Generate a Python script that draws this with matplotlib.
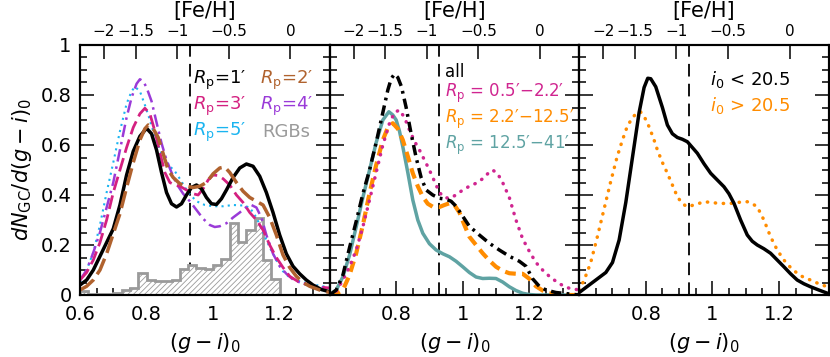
import matplotlib
matplotlib.use("Agg")
import matplotlib.pyplot as plt
import numpy as np

plt.rcParams['font.family'] = ['DejaVu Sans']
plt.rcParams['mathtext.fontset'] = 'dejavusans'
plt.rcParams['hatch.linewidth'] = 0.6

# ---- panel 1: radial bins
rp1_x = [0.60, 0.62, 0.64, 0.66, 0.68, 0.70, 0.72, 0.74, 0.76, 0.78, 0.80, 0.815, 0.83, 0.845, 0.86, 0.875, 0.89, 0.905, 0.92, 0.935, 0.95, 0.965, 0.98, 0.995, 1.01, 1.025, 1.04, 1.06, 1.08, 1.10, 1.12, 1.14, 1.16, 1.18, 1.20, 1.22, 1.24, 1.26, 1.28, 1.30, 1.325, 1.35]
rp1_y = [0.04, 0.06, 0.10, 0.155, 0.21, 0.265, 0.36, 0.48, 0.575, 0.635, 0.667, 0.645, 0.58, 0.49, 0.41, 0.365, 0.352, 0.365, 0.40, 0.43, 0.44, 0.425, 0.39, 0.365, 0.362, 0.385, 0.42, 0.47, 0.508, 0.524, 0.515, 0.475, 0.41, 0.33, 0.24, 0.165, 0.115, 0.085, 0.06, 0.04, 0.022, 0.013]
rp2_x = [0.60, 0.62, 0.64, 0.66, 0.68, 0.70, 0.72, 0.74, 0.76, 0.78, 0.795, 0.805, 0.82, 0.835, 0.85, 0.865, 0.88, 0.90, 0.92, 0.94, 0.96, 0.98, 1.00, 1.02, 1.035, 1.05, 1.07, 1.09, 1.11, 1.13, 1.15, 1.17, 1.19, 1.21, 1.23, 1.25, 1.27, 1.29, 1.32, 1.35]
rp2_y = [0.02, 0.035, 0.06, 0.10, 0.165, 0.245, 0.325, 0.43, 0.53, 0.62, 0.665, 0.68, 0.665, 0.63, 0.565, 0.50, 0.47, 0.445, 0.435, 0.43, 0.435, 0.45, 0.485, 0.508, 0.512, 0.49, 0.45, 0.415, 0.39, 0.375, 0.36, 0.31, 0.24, 0.16, 0.11, 0.075, 0.05, 0.035, 0.02, 0.01]
rp3_x = [0.60, 0.62, 0.64, 0.66, 0.68, 0.70, 0.72, 0.74, 0.76, 0.78, 0.795, 0.81, 0.825, 0.84, 0.855, 0.87, 0.885, 0.90, 0.92, 0.94, 0.955, 0.97, 0.985, 1.00, 1.015, 1.03, 1.05, 1.07, 1.09, 1.11, 1.13, 1.15, 1.17, 1.19, 1.21, 1.23, 1.26, 1.29, 1.32, 1.35]
rp3_y = [0.06, 0.09, 0.14, 0.21, 0.30, 0.41, 0.50, 0.59, 0.67, 0.725, 0.747, 0.725, 0.655, 0.57, 0.49, 0.45, 0.44, 0.435, 0.42, 0.405, 0.40, 0.425, 0.46, 0.48, 0.478, 0.465, 0.44, 0.40, 0.37, 0.33, 0.30, 0.26, 0.20, 0.15, 0.11, 0.075, 0.05, 0.04, 0.032, 0.028]
rp4_x = [0.60, 0.62, 0.64, 0.66, 0.68, 0.70, 0.72, 0.74, 0.755, 0.77, 0.78, 0.79, 0.80, 0.815, 0.83, 0.845, 0.86, 0.875, 0.89, 0.91, 0.93, 0.95, 0.97, 0.99, 1.005, 1.02, 1.04, 1.06, 1.08, 1.10, 1.115, 1.13, 1.145, 1.16, 1.18, 1.20, 1.22, 1.24, 1.27, 1.30, 1.35]
rp4_y = [0.06, 0.10, 0.17, 0.25, 0.35, 0.45, 0.58, 0.71, 0.79, 0.845, 0.863, 0.855, 0.83, 0.775, 0.69, 0.607, 0.54, 0.49, 0.445, 0.405, 0.375, 0.34, 0.305, 0.28, 0.272, 0.275, 0.287, 0.31, 0.33, 0.352, 0.36, 0.35, 0.31, 0.24, 0.165, 0.115, 0.085, 0.062, 0.045, 0.035, 0.028]
rp5_x = [0.60, 0.62, 0.64, 0.66, 0.68, 0.70, 0.72, 0.74, 0.755, 0.765, 0.78, 0.795, 0.81, 0.825, 0.84, 0.855, 0.87, 0.885, 0.90, 0.925, 0.95, 0.975, 1.00, 1.03, 1.06, 1.09, 1.11, 1.13, 1.15, 1.17, 1.19, 1.21, 1.23, 1.26, 1.29, 1.32, 1.35]
rp5_y = [0.05, 0.10, 0.17, 0.28, 0.41, 0.53, 0.655, 0.765, 0.815, 0.833, 0.815, 0.76, 0.70, 0.633, 0.58, 0.54, 0.515, 0.495, 0.465, 0.41, 0.375, 0.36, 0.355, 0.355, 0.36, 0.358, 0.35, 0.31, 0.25, 0.19, 0.14, 0.095, 0.07, 0.055, 0.045, 0.037, 0.03]

# RGB colour histogram
rgb_edges = np.arange(0.6, 1.2001, 0.025)
rgb_vals = [0.015, 0.005, 0.004, 0.005, 0.008, 0.02, 0.027, 0.087, 0.06, 0.055, 0.055, 0.06,
            0.105, 0.12, 0.11, 0.105, 0.12, 0.145, 0.287, 0.213, 0.26, 0.307, 0.14, 0.065]

# ---- panel 2: wide radial ranges
all_x = [0.60, 0.62, 0.64, 0.66, 0.68, 0.70, 0.72, 0.74, 0.76, 0.775, 0.785, 0.795, 0.805, 0.816, 0.83, 0.845, 0.86, 0.875, 0.89, 0.91, 0.93, 0.95, 0.965, 0.98, 1.00, 1.02, 1.05, 1.08, 1.11, 1.14, 1.17, 1.19, 1.21, 1.23, 1.25, 1.28, 1.35]
all_y = [0.0, 0.02, 0.08, 0.19, 0.295, 0.405, 0.50, 0.61, 0.73, 0.82, 0.865, 0.884, 0.87, 0.833, 0.75, 0.645, 0.55, 0.47, 0.42, 0.40, 0.387, 0.383, 0.375, 0.355, 0.315, 0.275, 0.24, 0.207, 0.18, 0.155, 0.135, 0.115, 0.065, 0.035, 0.02, 0.01, 0.0]
in_x = [0.60, 0.62, 0.64, 0.66, 0.68, 0.70, 0.72, 0.74, 0.76, 0.78, 0.795, 0.81, 0.825, 0.84, 0.855, 0.87, 0.885, 0.90, 0.915, 0.93, 0.945, 0.96, 0.98, 1.00, 1.02, 1.04, 1.06, 1.075, 1.09, 1.105, 1.12, 1.14, 1.16, 1.18, 1.20, 1.22, 1.24, 1.26, 1.29, 1.32, 1.35]
in_y = [0.0, 0.015, 0.06, 0.113, 0.18, 0.273, 0.38, 0.49, 0.60, 0.687, 0.73, 0.74, 0.71, 0.66, 0.615, 0.58, 0.54, 0.50, 0.455, 0.41, 0.39, 0.387, 0.40, 0.42, 0.435, 0.447, 0.465, 0.485, 0.50, 0.485, 0.45, 0.39, 0.30, 0.225, 0.175, 0.13, 0.10, 0.075, 0.045, 0.027, 0.02]
mid_x = [0.60, 0.62, 0.64, 0.66, 0.68, 0.70, 0.72, 0.74, 0.76, 0.775, 0.79, 0.805, 0.82, 0.835, 0.85, 0.865, 0.88, 0.895, 0.91, 0.93, 0.945, 0.96, 0.975, 0.99, 1.005, 1.02, 1.04, 1.06, 1.08, 1.10, 1.12, 1.14, 1.16, 1.18, 1.20, 1.22, 1.24, 1.26, 1.30, 1.35]
mid_y = [0.0, 0.005, 0.02, 0.08, 0.167, 0.28, 0.407, 0.52, 0.62, 0.67, 0.687, 0.665, 0.62, 0.555, 0.487, 0.435, 0.393, 0.365, 0.353, 0.352, 0.36, 0.367, 0.36, 0.33, 0.28, 0.233, 0.20, 0.167, 0.138, 0.113, 0.097, 0.087, 0.085, 0.085, 0.065, 0.035, 0.018, 0.007, 0.0, 0.0]
out_x = [0.60, 0.62, 0.64, 0.66, 0.68, 0.70, 0.72, 0.74, 0.76, 0.778, 0.79, 0.80, 0.81, 0.82, 0.835, 0.85, 0.865, 0.88, 0.90, 0.92, 0.94, 0.96, 0.98, 1.00, 1.02, 1.04, 1.06, 1.08, 1.10, 1.12, 1.14, 1.16, 1.18, 1.20, 1.22, 1.35]
out_y = [0.0, 0.02, 0.073, 0.16, 0.273, 0.39, 0.50, 0.61, 0.70, 0.733, 0.72, 0.70, 0.655, 0.593, 0.49, 0.38, 0.30, 0.247, 0.205, 0.18, 0.165, 0.153, 0.135, 0.113, 0.09, 0.072, 0.066, 0.067, 0.066, 0.052, 0.033, 0.018, 0.007, 0.002, 0.0, 0.0]

# ---- panel 3: magnitude cut
bright_x = [0.60, 0.62, 0.64, 0.66, 0.68, 0.70, 0.72, 0.74, 0.76, 0.78, 0.795, 0.806, 0.815, 0.83, 0.85, 0.865, 0.88, 0.895, 0.91, 0.925, 0.94, 0.955, 0.975, 0.995, 1.015, 1.035, 1.05, 1.065, 1.085, 1.105, 1.12, 1.135, 1.155, 1.175, 1.195, 1.215, 1.235, 1.255, 1.275, 1.295, 1.32, 1.35]
bright_y = [0.01, 0.03, 0.05, 0.07, 0.09, 0.13, 0.22, 0.37, 0.55, 0.73, 0.83, 0.867, 0.865, 0.833, 0.75, 0.68, 0.645, 0.63, 0.623, 0.613, 0.59, 0.567, 0.525, 0.487, 0.46, 0.433, 0.405, 0.367, 0.30, 0.24, 0.215, 0.20, 0.185, 0.167, 0.14, 0.113, 0.085, 0.06, 0.045, 0.033, 0.02, 0.005]
faint_x = [0.60, 0.615, 0.634, 0.654, 0.674, 0.694, 0.714, 0.73, 0.744, 0.76, 0.775, 0.784, 0.795, 0.81, 0.825, 0.835, 0.85, 0.865, 0.88, 0.895, 0.91, 0.925, 0.95, 0.975, 1.00, 1.015, 1.04, 1.065, 1.09, 1.105, 1.12, 1.135, 1.155, 1.175, 1.195, 1.215, 1.235, 1.255, 1.275, 1.295, 1.32, 1.345]
faint_y = [0.02, 0.06, 0.127, 0.23, 0.34, 0.45, 0.553, 0.62, 0.673, 0.71, 0.73, 0.733, 0.715, 0.673, 0.62, 0.58, 0.53, 0.487, 0.44, 0.393, 0.365, 0.353, 0.362, 0.373, 0.37, 0.367, 0.366, 0.367, 0.373, 0.373, 0.365, 0.353, 0.30, 0.233, 0.18, 0.14, 0.11, 0.087, 0.07, 0.06, 0.045, 0.033]

feh_ticks = [-2, -1.5, -1, -0.5, 0]
feh_labels = ['\u22122', '\u22121.5', '\u22121', '\u22120.5', '0']
split_color = 0.93


def feh_to_gi(f):
    f = np.asarray(f, dtype=float)
    return 1.232 + 0.40 * f + 0.06 * f ** 2


def fmt(v):
    return '%g' % v


W, H = 830, 357
fig = plt.figure(figsize=(8.3, 3.57), dpi=100)
x0, pw, y0, ph = 80, 249.6, 62, 250
axes = []
for k in range(3):
    ax = fig.add_axes([(x0 + k * pw) / W, y0 / H, pw / W, ph / H])
    axes.append(ax)

for k, ax in enumerate(axes):
    ax.set_xlim(0.6, 1.35)
    ax.set_ylim(0, 1)
    for s in ax.spines.values():
        s.set_linewidth(1.5)
    ax.set_xticks([0.6, 0.8, 1.0, 1.2])
    ax.set_xticks(np.arange(0.6, 1.351, 0.05), minor=True)
    ax.set_yticks(np.arange(0, 1.01, 0.2))
    ax.set_yticks(np.arange(0, 1.001, 0.05), minor=True)
    xl = [fmt(v) for v in [0.6, 0.8, 1.0, 1.2]]
    if k > 0:
        xl[0] = ''
    ax.set_xticklabels(xl)
    if k == 0:
        ax.set_yticklabels([fmt(round(v, 1)) for v in np.arange(0, 1.01, 0.2)])
    else:
        ax.set_yticklabels([])
    ax.tick_params(which='both', direction='in', top=False, right=True, width=1.1, labelsize=14)
    ax.tick_params(axis='x', pad=7)
    ax.tick_params(axis='y', pad=6)
    ax.tick_params(which='major', length=10)
    ax.tick_params(which='minor', length=5)
    ax.axvline(split_color, color='black', lw=1.3, dashes=(7, 4), zorder=1)
    ax.set_xlabel('$(g\u2212i)_0$', fontsize=15, labelpad=5)

    top = ax.twiny()
    top.set_xlim(ax.get_xlim())
    top.set_xticks(feh_to_gi(feh_ticks))
    top.set_xticklabels(feh_labels)
    top.tick_params(direction='in', length=10, width=1.1, labelsize=11, pad=4)
    top.set_xlabel('[Fe/H]', fontsize=15, labelpad=5)
    for s in top.spines.values():
        s.set_linewidth(1.5)

axes[0].set_ylabel('$dN_{\\rm GC}/d(g\u2212i)_0$', fontsize=15, labelpad=5)


def pos(k, px, py):
    # pixel position in the reference -> axes fraction of panel k
    return ((px - x0 - k * pw) / pw, (H - y0 - py) / ph)


# panel 1
a = axes[0]
a.stairs(rgb_vals, rgb_edges, fill=True, facecolor='white', edgecolor='#9a9a9a', hatch='//////', linewidth=0, zorder=2)
a.stairs(rgb_vals, rgb_edges, color='#9a9a9a', lw=2, zorder=3)
a.plot(rp5_x, rp5_y, color='#1ab4f0', lw=1.5, ls=(0, (1, 2)), zorder=4)
a.plot(rp4_x, rp4_y, color='#9a3ad8', lw=1.8, ls=(0, (5, 2, 1, 2)), zorder=4)
a.plot(rp3_x, rp3_y, color='#d42080', lw=2.0, ls=(0, (5, 2)), zorder=4)
a.plot(rp1_x, rp1_y, color='black', lw=2.5, zorder=5)
a.plot(rp2_x, rp2_y, color='#b0622e', lw=2.5, ls=(0, (5, 1.8)), zorder=6)

tk = dict(fontsize=13, va='center', ha='left', transform=a.transAxes)
a.text(*pos(0, 193, 80), "$R_{\\rm p}$=1\u2032", color='black', **tk)
a.text(*pos(0, 260, 80), "$R_{\\rm p}$=2\u2032", color='#b0622e', **tk)
a.text(*pos(0, 193, 106), "$R_{\\rm p}$=3\u2032", color='#d42080', **tk)
a.text(*pos(0, 260, 106), "$R_{\\rm p}$=4\u2032", color='#9a3ad8', **tk)
a.text(*pos(0, 193, 132), "$R_{\\rm p}$=5\u2032", color='#1ab4f0', **tk)
a.text(*pos(0, 262, 132), "RGBs", color='#9a9a9a', **tk)

# panel 2
b = axes[1]
b.plot(out_x, out_y, color='#5fa3a3', lw=2.5, zorder=4)
b.plot(mid_x, mid_y, color='#ff8c00', lw=3, ls=(0, (2.6, 1.5)), zorder=5)
b.plot(in_x, in_y, color='#d02590', lw=2.5, ls=(0, (0.1, 2.2)), dash_capstyle='round', zorder=5)
b.plot(all_x, all_y, color='black', lw=2.5, ls=(0, (3, 1.5, 0.8, 1.5)), zorder=6)
tk2 = dict(fontsize=12, va='center', ha='left', transform=b.transAxes)
b.text(*pos(1, 445, 72), "all", color='black', **tk2)
b.text(*pos(1, 445, 93), "$R_{\\rm p}$ = 0.5\u2032\u22122.2\u2032", color='#d02590', **tk2)
b.text(*pos(1, 445, 119), "$R_{\\rm p}$ = 2.2\u2032\u221212.5\u2032", color='#ff8c00', **tk2)
b.text(*pos(1, 445, 145), "$R_{\\rm p}$ = 12.5\u2032\u221241\u2032", color='#5fa3a3', **tk2)

# panel 3
c = axes[2]
c.plot(faint_x, faint_y, color='#ff8c00', lw=2.5, ls=(0, (0.1, 2.2)), dash_capstyle='round', zorder=4)
c.plot(bright_x, bright_y, color='black', lw=2.5, zorder=5)
tk3 = dict(fontsize=13, va='center', ha='left', transform=c.transAxes)
c.text(*pos(2, 710, 80), "$i_0$ < 20.5", color='black', **tk3)
c.text(*pos(2, 710, 105), "$i_0$ > 20.5", color='#ff8c00', **tk3)

fig.savefig('out.png', dpi=100)
